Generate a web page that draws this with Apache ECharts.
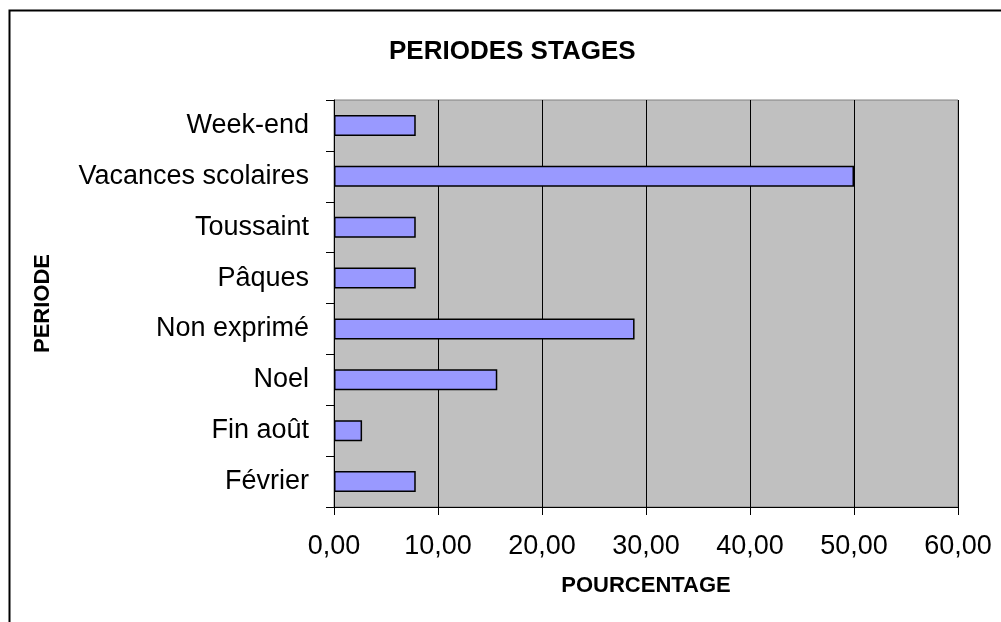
<!DOCTYPE html>
<html>
<head>
<meta charset="utf-8">
<title>PERIODES STAGES</title>
<script src="https://cdn.jsdelivr.net/npm/echarts@6/dist/echarts.min.js"></script>
<style>
  html, body { margin: 0; padding: 0; background: #fff; }
  #chart { width: 1001px; height: 622px; }
</style>
</head>
<body>
<div id="chart"></div>
<script>
// périodes, de bas en haut
const periodes = ['Février', 'Fin août', 'Noel', 'Non exprimé', 'Pâques', 'Toussaint', 'Vacances scolaires', 'Week-end']
// pourcentages
const pourcentages = [7.86, 2.7, 15.7, 28.9, 7.86, 7.86, 50, 7.86]
const xTicks = [0, 10, 20, 30, 40, 50, 60]

const font = '"Liberation Sans", Arial, sans-serif'
const chart = echarts.init(document.getElementById('chart'))

const option = {
  animation: false,
  backgroundColor: '#ffffff',
  title: {
    text: 'PERIODES STAGES',
    left: 384,
    top: 34,
    textStyle: { fontFamily: font, fontSize: 26, fontWeight: 'bold', color: '#000' },
  },
  grid: {
    left: 334,
    top: 100,
    width: 624,
    height: 407,
    show: true,
    backgroundColor: '#C0C0C0',
    borderColor: '#808080',
    borderWidth: 1,
  },
  xAxis: {
    type: 'value',
    min: xTicks[0],
    max: xTicks[xTicks.length - 1],
    interval: 10,
    name: 'POURCENTAGE',
    nameLocation: 'middle',
    nameGap: 68,
    nameTextStyle: { fontFamily: font, fontSize: 22, fontWeight: 'bold', color: '#000' },
    axisLine: { show: true, lineStyle: { color: '#000', width: 1 } },
    axisTick: { show: true, length: 8, lineStyle: { color: '#000' } },
    axisLabel: {
      fontFamily: font,
      fontSize: 27,
      color: '#000',
      margin: 26,
      formatter: (v) => v.toFixed(2).replace('.', ','),
    },
    splitLine: { show: true, lineStyle: { color: '#000', width: 1 } },
  },
  yAxis: {
    type: 'category',
    data: periodes,
    name: 'PERIODE',
    nameLocation: 'middle',
    nameRotate: 90,
    nameGap: 280,
    nameTextStyle: { fontFamily: font, fontSize: 22, fontWeight: 'bold', color: '#000' },
    axisLine: { show: true, lineStyle: { color: '#000', width: 1 } },
    axisTick: { show: true, length: 8, lineStyle: { color: '#000' } },
    axisLabel: { fontFamily: font, fontSize: 27, color: '#000', margin: 25 },
  },
  series: [
    {
      type: 'bar',
      data: pourcentages,
      barWidth: 21,
      itemStyle: { color: '#9999FF', borderColor: '#000', borderWidth: 1.5 },
    },
  ],
  graphic: [
    {
      type: 'rect',
      shape: { x: 9.5, y: 10.5, width: 1200, height: 800 },
      style: { fill: 'none', stroke: '#000', lineWidth: 2 },
      silent: true,
    },
  ],
}

chart.setOption(option)
</script>
</body>
</html>
